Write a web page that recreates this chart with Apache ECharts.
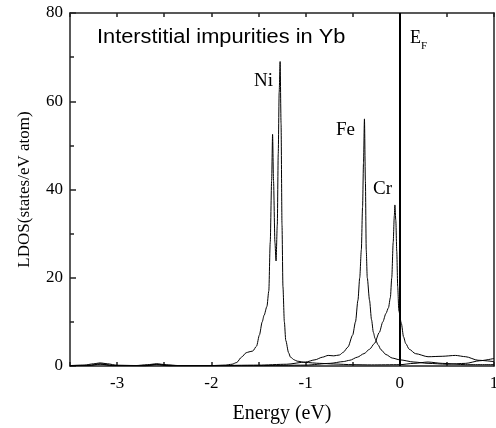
<!DOCTYPE html>
<html>
<head>
<meta charset="utf-8">
<script src="https://cdn.jsdelivr.net/npm/echarts@6/dist/echarts.min.js"></script>
<style>
html,body{margin:0;padding:0;background:#fff;}
#chart{width:496px;height:428px;}
</style>
</head>
<body>
<div id="chart"></div>
<script>
// Energy (eV), LDOS (states/eV atom)
var niData = [
  [-3.5,0.1],[-3.35,0.2],[-3.25,0.5],[-3.18,0.7],[-3.1,0.5],[-3.0,0.15],[-2.8,0.1],[-2.68,0.3],[-2.58,0.5],[-2.48,0.3],[-2.35,0.1],
  [-2.0,0.1],[-1.85,0.2],[-1.78,0.4],[-1.73,0.8],[-1.68,2.0],[-1.63,3.0],[-1.6,3.2],[-1.56,3.4],[-1.52,4.5],[-1.49,7.0],
  [-1.46,10.0],[-1.44,11.5],[-1.41,13.5],[-1.39,17],[-1.375,28],[-1.36,42],[-1.35,52.5],[-1.34,42],[-1.325,28],[-1.313,23.8],
  [-1.3,32],[-1.29,48],[-1.28,62],[-1.27,69],[-1.26,55],[-1.25,32],[-1.24,18],[-1.225,10],[-1.21,5.8],[-1.18,3.0],[-1.16,2.0],
  [-1.12,1.4],[-1.09,1.1],[-1.0,0.8],[-0.85,0.6],[-0.7,0.45],[-0.5,0.3],[-0.3,0.25],[0.0,0.3],[0.15,0.6],[0.3,0.9],[0.45,0.6],
  [0.7,0.3],[1.0,0.3]
];
var feData = [
  [-3.5,0.1],[-3.3,0.15],[-3.18,0.5],[-3.05,0.15],[-2.7,0.1],[-2.58,0.4],[-2.45,0.1],[-2.0,0.1],[-1.5,0.2],[-1.2,0.4],
  [-1.0,0.9],[-0.9,1.4],[-0.82,2.0],[-0.76,2.4],[-0.7,2.3],[-0.64,2.5],[-0.6,3.1],[-0.55,4.3],[-0.5,7.0],[-0.47,10.0],
  [-0.444,14.9],[-0.425,20],[-0.408,26.3],[-0.395,36],[-0.385,46],[-0.375,56],[-0.365,42],[-0.356,26.3],[-0.345,20],
  [-0.321,14.9],[-0.3,10.5],[-0.28,7.6],[-0.262,6.2],[-0.23,4.8],[-0.2,3.7],[-0.147,2.6],[-0.08,1.8],[0.0,1.4],[0.15,0.9],
  [0.3,0.6],[0.5,0.4],[0.7,0.6],[0.85,1.2],[1.0,1.7]
];
var crData = [
  [-3.5,0.05],[-3.3,0.1],[-3.18,0.4],[-3.05,0.1],[-2.7,0.05],[-2.58,0.3],[-2.45,0.05],[-2.0,0.05],[-1.5,0.1],[-1.0,0.2],
  [-0.74,0.6],[-0.6,1.0],[-0.53,1.3],[-0.45,2.0],[-0.38,2.8],[-0.32,3.8],[-0.269,5.1],[-0.217,7.6],[-0.18,10.0],[-0.147,11.9],
  [-0.12,13.2],[-0.1,15.5],[-0.085,20],[-0.07,28],[-0.058,34],[-0.052,36.5],[-0.042,33],[-0.032,26],[-0.022,18],
  [-0.01,12.5],[0.017,9.6],[0.04,6.6],[0.063,5.1],[0.1,3.8],[0.167,2.8],[0.3,2.1],[0.45,2.2],[0.59,2.4],[0.7,2.1],
  [0.83,1.3],[1.0,1.0]
];
var xTicks = [-3,-2,-1,0,1];
var yTicks = [0,20,40,60,80];
var fermiEnergy = 0;

var chart = echarts.init(document.getElementById('chart'), null, {renderer:'canvas'});
var serif = '"Liberation Serif","DejaVu Serif",serif';
var sans = '"Liberation Sans",Arial,sans-serif';
var axisCol = '#222';

function lineSeries(name, data, extra) {
  var s = {
    name: name, type: 'line', data: data, showSymbol: false, smooth: 0.25, smoothMonotone: 'x',
    lineStyle: {color: '#000', width: 1}, z: 3, animation: false
  };
  if (extra) for (var k in extra) s[k] = extra[k];
  return s;
}

chart.setOption({
  animation: false,
  backgroundColor: '#fff',
  grid: {left: 70, right: 2, top: 13, bottom: 62, containLabel: false, outerBoundsMode: 'none'},
  xAxis: [{
    type: 'value', min: -3.5, max: 1, interval: 0.5, position: 'bottom',
    name: 'Energy (eV)', nameLocation: 'middle', nameGap: 38,
    nameTextStyle: {fontFamily: serif, fontSize: 20, color: '#000'},
    axisLine: {show: true, onZero: false, lineStyle: {color: axisCol, width: 1.5}},
    axisTick: {show: true, inside: true, length: 4, lineStyle: {color: axisCol, width: 1.5}},
    axisLabel: {fontFamily: serif, fontSize: 17, color: '#000', margin: 9, hideOverlap: false,
      formatter: function(v){ return xTicks.indexOf(v) >= 0 ? String(v) : ''; }},
    splitLine: {show: false}
  },{
    type: 'value', min: -3.5, max: 1, interval: 0.5, position: 'top',
    axisLine: {show: true, onZero: false, lineStyle: {color: axisCol, width: 1.5}},
    axisTick: {show: true, inside: true, length: 4, lineStyle: {color: axisCol, width: 1.5}},
    axisLabel: {show: false}, splitLine: {show: false}
  }],
  yAxis: [{
    type: 'value', min: 0, max: 80, interval: 20, position: 'left',
    name: 'LDOS(states/eV atom)', nameLocation: 'middle', nameGap: 37, nameRotate: 90,
    nameTextStyle: {fontFamily: serif, fontSize: 17, color: '#000'},
    axisLine: {show: true, onZero: false, lineStyle: {color: axisCol, width: 1.5}},
    axisTick: {show: true, inside: true, length: 6, lineStyle: {color: axisCol, width: 1.5}},
    minorTick: {show: true, splitNumber: 2, length: 4, lineStyle: {color: axisCol, width: 1.5}},
    axisLabel: {fontFamily: serif, fontSize: 17, color: '#000', margin: 7,
      formatter: function(v){ return yTicks.indexOf(v) >= 0 ? String(v) : ''; }},
    splitLine: {show: false}
  },{
    type: 'value', min: 0, max: 80, interval: 20, position: 'right',
    axisLine: {show: true, onZero: false, lineStyle: {color: axisCol, width: 1.5}},
    axisTick: {show: false}, axisLabel: {show: false}, splitLine: {show: false}
  }],
  series: [
    lineSeries('Ni', niData),
    lineSeries('Fe', feData),
    lineSeries('Cr', crData, {
      markLine: {
        silent: true, symbol: ['none','none'], label: {show: false},
        lineStyle: {color: '#000', width: 2, type: 'solid'},
        data: [{xAxis: fermiEnergy}]
      }
    })
  ],
  graphic: [
    {type: 'text', x: 97, y: 27, scaleX: 1.09, style: {text: 'Interstitial impurities in Yb', font: '20px ' + sans, fill: '#000'}},
    {type: 'text', left: 254, top: 72, style: {text: 'Ni', font: '19px ' + serif, fill: '#000'}},
    {type: 'text', left: 336, top: 121, style: {text: 'Fe', font: '19px ' + serif, fill: '#000'}},
    {type: 'text', left: 373, top: 180, style: {text: 'Cr', font: '19px ' + serif, fill: '#000'}},
    {type: 'text', left: 410, top: 29, style: {text: 'E', font: '18px ' + serif, fill: '#000'}},
    {type: 'text', left: 421, top: 41, style: {text: 'F', font: '11px ' + serif, fill: '#000'}}
  ]
});
</script>
</body>
</html>
